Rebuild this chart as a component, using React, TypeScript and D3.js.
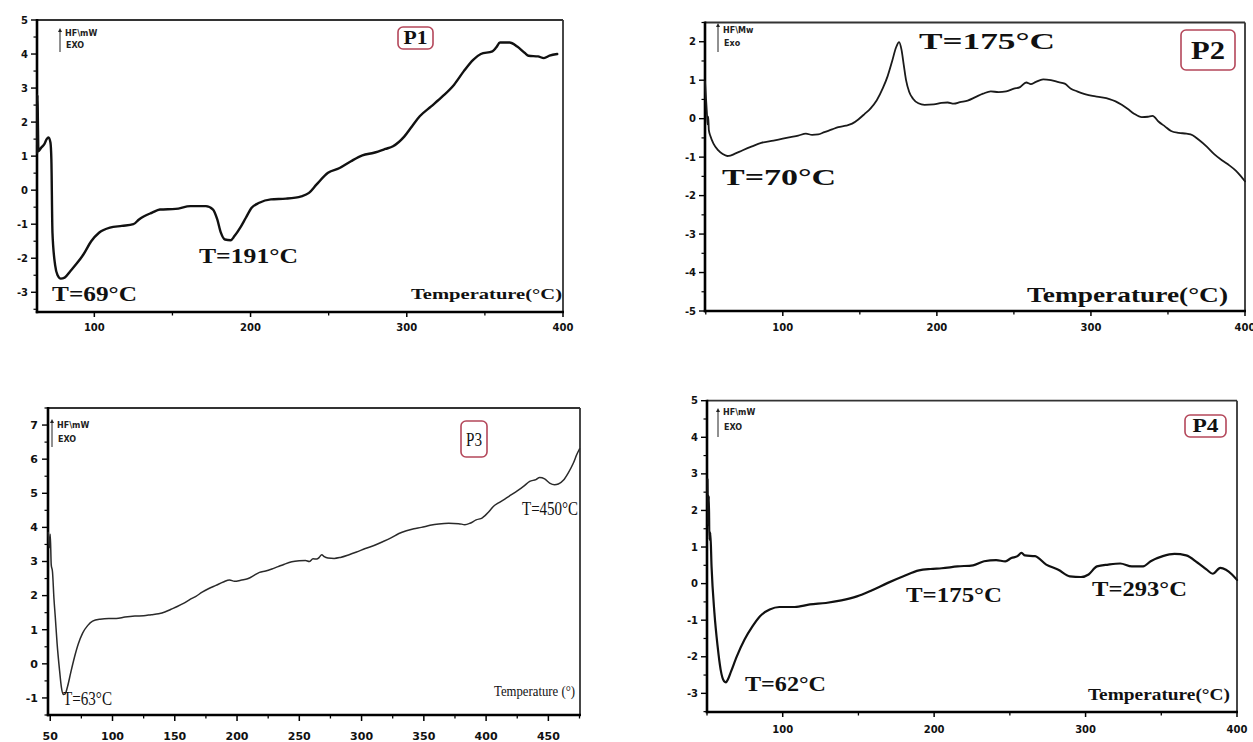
import React from 'react';
import * as d3 from 'd3';

type Pt = [number, number];

// ---------- DATA (Temperature °C, heat flow mW) ----------
const p1Curve: Pt[] = [
  [63.4, 1.1], [63.6, 2.8], [63.9, 1.9], [64.2, 1.15], [66, 1.25], [68, 1.35], [69.5, 1.5], [70.7, 1.55],
  [71.9, 1.4], [72.5, 0.9], [73.2, -1.25], [74.9, -2.2], [76.5, -2.5], [78.5, -2.6], [81, -2.57],
  [84.6, -2.38], [88.3, -2.18], [93, -1.89], [98, -1.5], [103, -1.25], [110, -1.1], [117.6, -1.05],
  [125, -1.0], [128.6, -0.86], [137, -0.66], [142, -0.57], [152, -0.55], [161.6, -0.47], [171.4, -0.47],
  [176, -0.57], [178.7, -0.86], [181, -1.25], [183.6, -1.45], [187.3, -1.47], [189.7, -1.35], [193.4, -1.1],
  [197, -0.81], [200.7, -0.52], [205.6, -0.37], [213, -0.27], [222.7, -0.25], [232.5, -0.18], [237.4, -0.08],
  [242.3, 0.17], [249.6, 0.51], [257, 0.65], [264.3, 0.85], [271.6, 1.02], [279, 1.1], [286.3, 1.21],
  [291.2, 1.29], [298.5, 1.58], [303.4, 1.88], [308.3, 2.17], [315.6, 2.46], [323, 2.76], [330.3, 3.1],
  [336.4, 3.49], [342.5, 3.83], [347.4, 4.0], [354.8, 4.08], [357.2, 4.19], [359.7, 4.34], [365.8, 4.34],
  [370.7, 4.22], [375.6, 4.03], [378, 3.95], [384, 3.93], [387.8, 3.88], [391.4, 3.95], [396.3, 4.0],
];

const p2Curve: Pt[] = [
  [49.5, 0.97], [50.2, 0.5], [50.8, 0.1], [51.2, -0.15], [51.6, 0.05], [52.0, -0.3], [53, -0.45], [55, -0.65],
  [58, -0.82], [61, -0.92], [64, -0.97], [66, -0.96], [69, -0.91], [74, -0.82], [80, -0.72], [86, -0.63],
  [94, -0.57], [100, -0.52], [105, -0.48], [110, -0.44], [115, -0.39], [119, -0.42], [123, -0.41],
  [127, -0.35], [132, -0.28], [136, -0.22], [141, -0.18], [145, -0.13], [149, -0.02], [153, 0.12],
  [157, 0.27], [161, 0.48], [165, 0.8], [168, 1.1], [171, 1.5], [173.5, 1.85], [175.5, 1.99], [177, 1.8],
  [178.5, 1.4], [180, 1.0], [182, 0.7], [184.5, 0.52], [188, 0.4], [192, 0.36], [198, 0.37], [203, 0.41],
  [207, 0.42], [211, 0.39], [215, 0.43], [220, 0.47], [225, 0.56], [230, 0.65], [235, 0.71], [240, 0.69],
  [245, 0.71], [250, 0.78], [254, 0.82], [258, 0.94], [261, 0.9], [264, 0.95], [269, 1.02], [274, 1.0],
  [279, 0.95], [283, 0.91], [287, 0.78], [291, 0.71], [296, 0.64], [301, 0.59], [306, 0.56], [312, 0.51],
  [316, 0.45], [320, 0.36], [324, 0.25], [328, 0.13], [333, 0.04], [337, 0.05], [340, 0.07], [344, -0.08],
  [348, -0.2], [352, -0.32], [357, -0.37], [362, -0.39], [366, -0.43], [370, -0.55], [375, -0.72],
  [380, -0.92], [385, -1.08], [390, -1.22], [394, -1.35], [397, -1.48], [400, -1.63],
];

const p3Curve: Pt[] = [
  [48.5, 3.85], [49.3, 3.4], [50, 3.8], [50.8, 2.9], [51.8, 2.7], [53, 1.9], [54, 1.4], [55.5, 0.6],
  [57.5, -0.2], [59, -0.7], [60.5, -0.9], [62, -0.88], [64, -0.65], [66.5, -0.25], [69.5, 0.2], [72.5, 0.58],
  [76, 0.9], [80, 1.12], [84, 1.25], [90, 1.31], [97, 1.33], [103, 1.33], [110, 1.37], [118, 1.4],
  [125, 1.41], [131, 1.44], [137, 1.47], [142, 1.52], [147, 1.6], [152, 1.68], [157, 1.77], [162, 1.88],
  [167, 1.98], [172, 2.1], [177, 2.2], [183, 2.3], [189, 2.4], [194, 2.46], [198, 2.42], [203, 2.45],
  [206, 2.47], [209, 2.5], [214, 2.6], [218, 2.68], [223, 2.72], [228, 2.78], [233, 2.85], [238, 2.92],
  [244, 2.99], [250, 3.02], [255, 3.03], [258, 3.0], [261, 3.08], [264, 3.07], [266, 3.12], [268, 3.2],
  [270, 3.14], [273, 3.1], [278, 3.09], [283, 3.12], [290, 3.2], [296, 3.28], [303, 3.38], [310, 3.47],
  [317, 3.58], [324, 3.7], [330, 3.82], [336, 3.9], [342, 3.96], [348, 4.0], [355, 4.06], [362, 4.1],
  [370, 4.12], [378, 4.11], [383, 4.08], [387, 4.12], [392, 4.22], [397, 4.28], [402, 4.45], [406, 4.62],
  [410, 4.72], [415, 4.83], [420, 4.95], [425, 5.07], [430, 5.2], [435, 5.35], [440, 5.4], [443, 5.46],
  [447, 5.42], [451, 5.3], [455, 5.25], [458, 5.27], [462, 5.38], [466, 5.6], [470, 5.88], [473, 6.15],
  [475, 6.3],
];

const p4Curve: Pt[] = [
  [50.3, 2.85], [50.8, 1.6], [51.2, 2.4], [51.6, 1.2], [52.2, 1.4], [53, 0.47], [54.9, -0.8], [57, -1.71],
  [59, -2.35], [61.3, -2.67], [62.5, -2.7], [63.8, -2.62], [65.9, -2.4], [69.7, -1.99], [74.8, -1.53],
  [80, -1.17], [85, -0.89], [91.4, -0.71], [97.8, -0.64], [108, -0.64], [118, -0.57], [128.5, -0.53],
  [138.7, -0.46], [149, -0.35], [159, -0.18], [169.4, 0.02], [179.7, 0.2], [190, 0.36], [197.6, 0.4],
  [205, 0.42], [215.5, 0.47], [225.7, 0.5], [233, 0.61], [241, 0.64], [247, 0.61], [251, 0.7], [255, 0.75],
  [257.7, 0.84], [260, 0.77], [266.6, 0.75], [274, 0.52], [282, 0.38], [289.6, 0.2], [297, 0.18],
  [302, 0.25], [307.5, 0.47], [315, 0.52], [322.9, 0.55], [330.6, 0.47], [338, 0.47], [343, 0.61],
  [351, 0.75], [358.7, 0.81], [366.4, 0.77], [374, 0.57], [380, 0.38], [384, 0.27], [389, 0.43],
  [392.7, 0.38], [396.7, 0.25], [400, 0.1],
];

// ---------- TICKS & LABELS ----------
const p1XTicks = [100, 200, 300, 400];
const p1YTicks = [-3, -2, -1, 0, 1, 2, 3, 4, 5];
const p2XTicks = [100, 200, 300, 400];
const p2YTicks = [-5, -4, -3, -2, -1, 0, 1, 2];
const p3XTicks = [50, 100, 150, 200, 250, 300, 350, 400, 450];
const p3YTicks = [-1, 0, 1, 2, 3, 4, 5, 6, 7];
const p4XTicks = [100, 200, 300, 400];
const p4YTicks = [-3, -2, -1, 0, 1, 2, 3, 4, 5];

const panelNames = ['P1', 'P2', 'P3', 'P4'];
const p1Notes = ['T=69°C', 'T=191°C', 'Temperature(°C)'];
const p2Notes = ['T=175°C', 'T=70°C', 'Temperature(°C)'];
const p3Notes = ['T=63°C', 'T=450°C', 'Temperature (°)'];
const p4Notes = ['T=62°C', 'T=175°C', 'T=293°C', 'Temperature(°C)'];
const hfUnits = ['HF\\mW', 'HF\\Mw', 'HF\\mW', 'HF\\mW'];
const exoLabels = ['EXO', 'Exo', 'EXO', 'EXO'];

// ---------- LAYOUT ----------
type NotePos = { x: number; y: number; fs: number; w: number };
type Layout = {
  left: number; right: number; top: number; bottom: number;
  xDomain: [number, number]; yDomain: [number, number];
  xMinor: number; yMinor: number;
  tickFont: number; xLabelDy: number; yLabelDx: number; xTickLen: number;
  lineWidth: number; lineColor: string;
  notes: NotePos[]; noteWeight: string;
  box: { x: number; y: number; w: number; h: number; fs: number; tw: number };
  hf: { x: number; y1: number; y2: number; t1y: number; t2y: number };
};

const layouts: Layout[] = [
  {
    left: 37, right: 563, top: 20, bottom: 312, xDomain: [63.3, 400], yDomain: [-3.58, 5],
    xMinor: 50, yMinor: 0.5, tickFont: 10, xLabelDy: 15, yLabelDx: 9, xTickLen: 5,
    lineWidth: 2.4, lineColor: '#111',
    notes: [
      { x: 52, y: 301, fs: 20, w: 85 },
      { x: 199, y: 263, fs: 21, w: 99 },
      { x: 411, y: 299, fs: 15, w: 151 },
    ],
    noteWeight: 'bold',
    box: { x: 398, y: 27, w: 35, h: 22, fs: 18, tw: 24 },
    hf: { x: 60, y1: 28, y2: 52, t1y: 36, t2y: 48 },
  },
  {
    left: 705, right: 1245, top: 22.5, bottom: 311, xDomain: [49.5, 400], yDomain: [-5, 2.5],
    xMinor: 50, yMinor: 0.5, tickFont: 10, xLabelDy: 16, yLabelDx: 9, xTickLen: 5,
    lineWidth: 1.8, lineColor: '#1a1a1a',
    notes: [
      { x: 919, y: 49, fs: 24, w: 136 },
      { x: 722, y: 185, fs: 24, w: 114 },
      { x: 1027, y: 302, fs: 20, w: 201 },
    ],
    noteWeight: 'bold',
    box: { x: 1181, y: 30, w: 54, h: 40, fs: 26, tw: 34 },
    hf: { x: 718, y1: 23, y2: 52, t1y: 33, t2y: 46 },
  },
  {
    left: 48, right: 580, top: 408, bottom: 715, xDomain: [48.2, 475.4], yDomain: [-1.5, 7.5],
    xMinor: 25, yMinor: 0.5, tickFont: 11, xLabelDy: 21, yLabelDx: 10, xTickLen: 6,
    lineWidth: 1.5, lineColor: '#2a2a2a',
    notes: [
      { x: 63, y: 705, fs: 19, w: 49 },
      { x: 522, y: 515, fs: 19, w: 56 },
      { x: 494, y: 696, fs: 15, w: 81 },
    ],
    noteWeight: 'normal',
    box: { x: 461, y: 421, w: 26, h: 36, fs: 19, tw: 16 },
    hf: { x: 52, y1: 419, y2: 447, t1y: 428, t2y: 442 },
  },
  {
    left: 707, right: 1237, top: 400.7, bottom: 712, xDomain: [50, 400], yDomain: [-3.51, 5],
    xMinor: 50, yMinor: 0.5, tickFont: 10, xLabelDy: 17, yLabelDx: 9, xTickLen: 5,
    lineWidth: 2.2, lineColor: '#111',
    notes: [
      { x: 745, y: 691, fs: 21, w: 81 },
      { x: 906, y: 602, fs: 21, w: 96 },
      { x: 1092, y: 596, fs: 21, w: 95 },
      { x: 1088, y: 700, fs: 16, w: 142 },
    ],
    noteWeight: 'bold',
    box: { x: 1185, y: 415, w: 41, h: 22, fs: 18, tw: 26 },
    hf: { x: 718, y1: 408, y2: 437, t1y: 415, t2y: 430 },
  },
];

const curves = [p1Curve, p2Curve, p3Curve, p4Curve];
const xTickSets = [p1XTicks, p2XTicks, p3XTicks, p4XTicks];
const yTickSets = [p1YTicks, p2YTicks, p3YTicks, p4YTicks];
const noteSets = [p1Notes, p2Notes, p3Notes, p4Notes];

const SANS = '"DejaVu Sans", "Liberation Sans", Arial, sans-serif';
const SERIF = '"Liberation Serif", "Times New Roman", serif';

function Panel({ i }: { i: number }) {
  const L = layouts[i];
  const data = curves[i];
  const x = d3.scaleLinear().domain(L.xDomain).range([L.left, L.right]);
  const y = d3.scaleLinear().domain(L.yDomain).range([L.bottom, L.top]);
  const line = d3.line<Pt>().x(d => x(d[0])).y(d => y(d[1])).curve(d3.curveMonotoneX);

  const xt = xTickSets[i];
  const yt = yTickSets[i];
  const xMinorTicks = d3.range(Math.ceil(L.xDomain[0] / L.xMinor) * L.xMinor, L.xDomain[1] + 0.01, L.xMinor)
    .filter(v => !xt.includes(v));
  const yMinorTicks = d3.range(Math.ceil(L.yDomain[0] / L.yMinor) * L.yMinor, L.yDomain[1] + 0.001, L.yMinor)
    .filter(v => !yt.includes(v));

  const isP3 = i === 2;
  return (
    <g>
      {/* frame */}
      <line x1={L.left} x2={L.right} y1={L.top} y2={L.top} stroke="#333" strokeWidth={1.8} />
      <line x1={L.right} x2={L.right} y1={L.top} y2={L.bottom} stroke="#333" strokeWidth={1.8} />
      <line x1={L.left} x2={L.left} y1={L.top - 1} y2={L.bottom + 1.2} stroke="#000" strokeWidth={2.6} />
      <line x1={L.left - 1.2} x2={L.right + 1} y1={L.bottom} y2={L.bottom} stroke="#000" strokeWidth={2.6} />

      {/* y ticks */}
      {yt.map(v => (
        <g key={'yt' + v}>
          <line x1={L.left - 6} x2={L.left} y1={y(v)} y2={y(v)} stroke="#000" strokeWidth={1.4} />
          <text x={L.left - L.yLabelDx} y={y(v)} dy="0.35em" textAnchor="end" fontFamily={SANS}
            fontWeight="bold" fontSize={L.tickFont} fill="#111">{v}</text>
        </g>
      ))}
      {yMinorTicks.map(v => (
        <line key={'ym' + v} x1={L.left - 3.5} x2={L.left} y1={y(v)} y2={y(v)} stroke="#000" strokeWidth={1.2} />
      ))}

      {/* x ticks */}
      {xt.map(v => (
        <g key={'xt' + v}>
          <line x1={x(v)} x2={x(v)} y1={L.bottom} y2={L.bottom + L.xTickLen} stroke="#000" strokeWidth={1.5} />
          <text x={x(v)} y={L.bottom + L.xLabelDy} dy="0.35em" textAnchor="middle" fontFamily={SANS}
            fontWeight="bold" fontSize={L.tickFont} fill="#111">{v}</text>
        </g>
      ))}
      {xMinorTicks.map(v => (
        <line key={'xm' + v} x1={x(v)} x2={x(v)} y1={L.bottom} y2={L.bottom + 3.5} stroke="#000" strokeWidth={1.3} />
      ))}

      {/* curve */}
      <path d={line(data) || ''} fill="none" stroke={L.lineColor} strokeWidth={L.lineWidth}
        strokeLinejoin="round" strokeLinecap="round" />

      {/* HF / EXO legend */}
      <line x1={L.hf.x} x2={L.hf.x} y1={L.hf.y1 + 2} y2={L.hf.y2} stroke="#222" strokeWidth={1} />
      <path d={`M${L.hf.x - 2},${L.hf.y1 + 4} L${L.hf.x},${L.hf.y1} L${L.hf.x + 2},${L.hf.y1 + 4} Z`} fill="#222" />
      <text x={L.hf.x + 5} y={L.hf.t1y} fontFamily={SANS} fontWeight="bold" fontSize={8} fill="#222">{hfUnits[i]}</text>
      <text x={L.hf.x + 6} y={L.hf.t2y} fontFamily={SANS} fontWeight="bold" fontSize={8} fill="#222">{exoLabels[i]}</text>

      {/* panel label box */}
      <rect x={L.box.x} y={L.box.y} width={L.box.w} height={L.box.h} rx={5} ry={5}
        fill="#fff" stroke="#b4475a" strokeWidth={1.6} />
      <text x={L.box.x + L.box.w / 2} y={L.box.y + L.box.h / 2} dy="0.35em" textAnchor="middle"
        fontFamily={SERIF} fontWeight={isP3 ? 'normal' : 'bold'} fontSize={L.box.fs} fill="#111"
        textLength={L.box.tw} lengthAdjust="spacingAndGlyphs">{panelNames[i]}</text>

      {/* annotations */}
      {noteSets[i].map((t, k) => {
        const n = L.notes[k];
        return (
          <text key={'n' + k} x={n.x} y={n.y} fontFamily={SERIF} fontWeight={L.noteWeight} fontSize={n.fs}
            fill="#111" textLength={n.w} lengthAdjust="spacingAndGlyphs">{t}</text>
        );
      })}
    </g>
  );
}

export default function App() {
  return (
    <div style={{ position: 'absolute', left: 0, top: 0, width: 1253, height: 742, background: '#fff' }}>
      <svg width={1253} height={742} viewBox="0 0 1253 742" style={{ display: 'block' }}>
        <rect x={0} y={0} width={1253} height={742} fill="#fff" />
        {[0, 1, 2, 3].map(i => <Panel key={i} i={i} />)}
      </svg>
    </div>
  );
}
